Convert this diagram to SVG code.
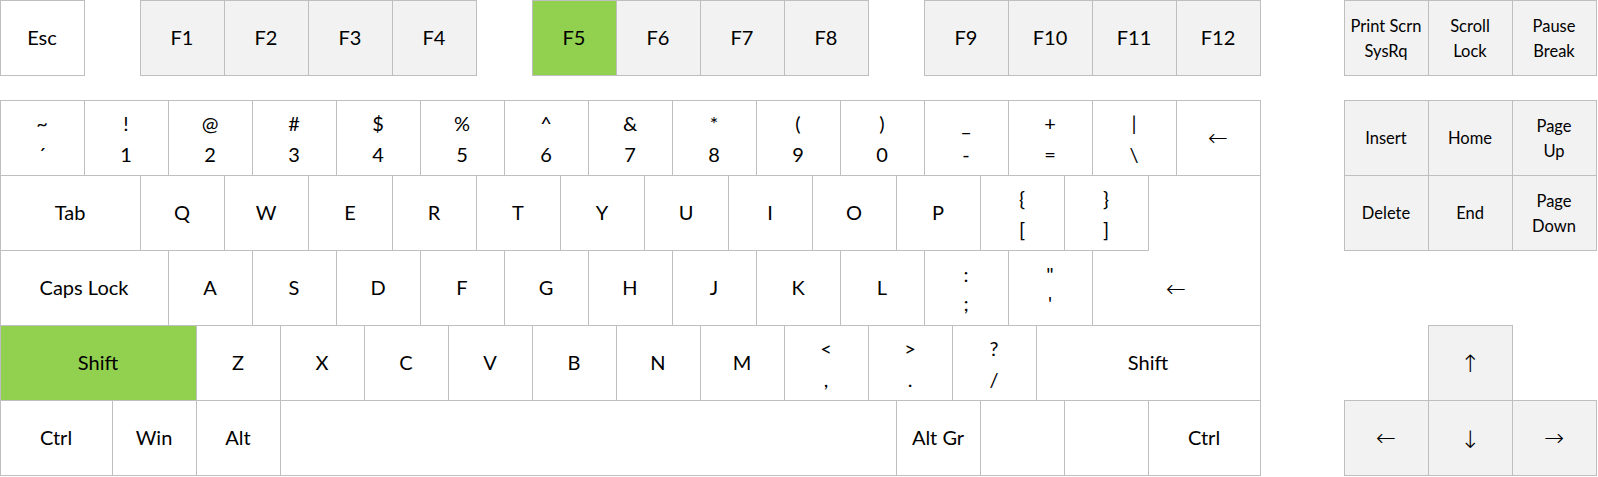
<svg xmlns="http://www.w3.org/2000/svg" width="1598" height="477" viewBox="0 0 1598 477">
<style>
rect, path.k { stroke: #BFBFBF; stroke-width: 1; fill: #FFFFFF; }
.g rect { fill: #F2F2F2; }
.hl rect { fill: #92D050; }
text { font-family: Lato, "Liberation Sans", sans-serif; font-size: 20px; fill: #000000; text-anchor: middle; }
.s text { font-size: 16.5px; }
text.ar { font-family: "DejaVu Sans", sans-serif; font-size: 24px; font-weight: 300; }
</style>
<rect x="0" y="0" width="1598" height="477" style="fill:#FFFFFF;stroke:none"/>
<!-- Function row -->
<g id="key-esc"><rect x="0.5" y="0.5" width="84" height="75"/><text x="42" y="45">Esc</text></g>
<g id="key-f1" class="g"><rect x="140.5" y="0.5" width="84" height="75"/><text x="182" y="45">F1</text></g>
<g id="key-f2" class="g"><rect x="224.5" y="0.5" width="84" height="75"/><text x="266" y="45">F2</text></g>
<g id="key-f3" class="g"><rect x="308.5" y="0.5" width="84" height="75"/><text x="350" y="45">F3</text></g>
<g id="key-f4" class="g"><rect x="392.5" y="0.5" width="84" height="75"/><text x="434" y="45">F4</text></g>
<g id="key-f5" class="hl"><rect x="532.5" y="0.5" width="84" height="75"/><text x="574" y="45">F5</text></g>
<g id="key-f6" class="g"><rect x="616.5" y="0.5" width="84" height="75"/><text x="658" y="45">F6</text></g>
<g id="key-f7" class="g"><rect x="700.5" y="0.5" width="84" height="75"/><text x="742" y="45">F7</text></g>
<g id="key-f8" class="g"><rect x="784.5" y="0.5" width="84" height="75"/><text x="826" y="45">F8</text></g>
<g id="key-f9" class="g"><rect x="924.5" y="0.5" width="84" height="75"/><text x="966" y="45">F9</text></g>
<g id="key-f10" class="g"><rect x="1008.5" y="0.5" width="84" height="75"/><text x="1050" y="45">F10</text></g>
<g id="key-f11" class="g"><rect x="1092.5" y="0.5" width="84" height="75"/><text x="1134" y="45">F11</text></g>
<g id="key-f12" class="g"><rect x="1176.5" y="0.5" width="84" height="75"/><text x="1218" y="45">F12</text></g>
<g id="key-prtsc" class="g s"><rect x="1344.5" y="0.5" width="84" height="75"/><text x="1386" y="32">Print Scrn</text><text x="1386" y="56.5">SysRq</text></g>
<g id="key-scrlk" class="g s"><rect x="1428.5" y="0.5" width="84" height="75"/><text x="1470" y="32">Scroll</text><text x="1470" y="56.5">Lock</text></g>
<g id="key-pause" class="g s"><rect x="1512.5" y="0.5" width="84" height="75"/><text x="1554" y="32">Pause</text><text x="1554" y="56.5">Break</text></g>
<!-- Number row -->
<g id="key-tilde"><rect x="0.5" y="100.5" width="84" height="75"/><text x="42" y="131">~</text><text x="42" y="161.5">´</text></g>
<g id="key-1"><rect x="84.5" y="100.5" width="84" height="75"/><text x="126" y="131">!</text><text x="126" y="161.5">1</text></g>
<g id="key-2"><rect x="168.5" y="100.5" width="84" height="75"/><text x="210" y="131">@</text><text x="210" y="161.5">2</text></g>
<g id="key-3"><rect x="252.5" y="100.5" width="84" height="75"/><text x="294" y="131">#</text><text x="294" y="161.5">3</text></g>
<g id="key-4"><rect x="336.5" y="100.5" width="84" height="75"/><text x="378" y="131">$</text><text x="378" y="161.5">4</text></g>
<g id="key-5"><rect x="420.5" y="100.5" width="84" height="75"/><text x="462" y="131">%</text><text x="462" y="161.5">5</text></g>
<g id="key-6"><rect x="504.5" y="100.5" width="84" height="75"/><text x="546" y="131">^</text><text x="546" y="161.5">6</text></g>
<g id="key-7"><rect x="588.5" y="100.5" width="84" height="75"/><text x="630" y="131">&amp;</text><text x="630" y="161.5">7</text></g>
<g id="key-8"><rect x="672.5" y="100.5" width="84" height="75"/><text x="714" y="131">*</text><text x="714" y="161.5">8</text></g>
<g id="key-9"><rect x="756.5" y="100.5" width="84" height="75"/><text x="798" y="131">(</text><text x="798" y="161.5">9</text></g>
<g id="key-0"><rect x="840.5" y="100.5" width="84" height="75"/><text x="882" y="131">)</text><text x="882" y="161.5">0</text></g>
<g id="key-minus"><rect x="924.5" y="100.5" width="84" height="75"/><text x="966" y="131">_</text><text x="966" y="161.5">-</text></g>
<g id="key-equal"><rect x="1008.5" y="100.5" width="84" height="75"/><text x="1050" y="131">+</text><text x="1050" y="161.5">=</text></g>
<g id="key-backslash"><rect x="1092.5" y="100.5" width="84" height="75"/><text x="1134" y="131">|</text><text x="1134" y="161.5">\</text></g>
<g id="key-backspace"><rect x="1176.5" y="100.5" width="84" height="75"/><text class="ar" x="1218" y="146">←</text></g>
<g id="key-insert" class="g s"><rect x="1344.5" y="100.5" width="84" height="75"/><text x="1386" y="143.5">Insert</text></g>
<g id="key-home" class="g s"><rect x="1428.5" y="100.5" width="84" height="75"/><text x="1470" y="143.5">Home</text></g>
<g id="key-pgup" class="g s"><rect x="1512.5" y="100.5" width="84" height="75"/><text x="1554" y="132">Page</text><text x="1554" y="156.5">Up</text></g>
<!-- Tab row -->
<g id="key-tab"><rect x="0.5" y="175.5" width="140" height="75"/><text x="70" y="220">Tab</text></g>
<g id="key-q"><rect x="140.5" y="175.5" width="84" height="75"/><text x="182" y="220">Q</text></g>
<g id="key-w"><rect x="224.5" y="175.5" width="84" height="75"/><text x="266" y="220">W</text></g>
<g id="key-e"><rect x="308.5" y="175.5" width="84" height="75"/><text x="350" y="220">E</text></g>
<g id="key-r"><rect x="392.5" y="175.5" width="84" height="75"/><text x="434" y="220">R</text></g>
<g id="key-t"><rect x="476.5" y="175.5" width="84" height="75"/><text x="518" y="220">T</text></g>
<g id="key-y"><rect x="560.5" y="175.5" width="84" height="75"/><text x="602" y="220">Y</text></g>
<g id="key-u"><rect x="644.5" y="175.5" width="84" height="75"/><text x="686" y="220">U</text></g>
<g id="key-i"><rect x="728.5" y="175.5" width="84" height="75"/><text x="770" y="220">I</text></g>
<g id="key-o"><rect x="812.5" y="175.5" width="84" height="75"/><text x="854" y="220">O</text></g>
<g id="key-p"><rect x="896.5" y="175.5" width="84" height="75"/><text x="938" y="220">P</text></g>
<g id="key-lbracket"><rect x="980.5" y="175.5" width="84" height="75"/><text x="1022" y="206">{</text><text x="1022" y="236.5">[</text></g>
<g id="key-rbracket"><rect x="1064.5" y="175.5" width="84" height="75"/><text x="1106" y="206">}</text><text x="1106" y="236.5">]</text></g>
<g id="key-delete" class="g s"><rect x="1344.5" y="175.5" width="84" height="75"/><text x="1386" y="218.5">Delete</text></g>
<g id="key-end" class="g s"><rect x="1428.5" y="175.5" width="84" height="75"/><text x="1470" y="218.5">End</text></g>
<g id="key-pgdn" class="g s"><rect x="1512.5" y="175.5" width="84" height="75"/><text x="1554" y="207">Page</text><text x="1554" y="231.5">Down</text></g>
<!-- Caps row -->
<g id="key-caps"><rect x="0.5" y="250.5" width="168" height="75"/><text x="84" y="295">Caps Lock</text></g>
<g id="key-a"><rect x="168.5" y="250.5" width="84" height="75"/><text x="210" y="295">A</text></g>
<g id="key-s"><rect x="252.5" y="250.5" width="84" height="75"/><text x="294" y="295">S</text></g>
<g id="key-d"><rect x="336.5" y="250.5" width="84" height="75"/><text x="378" y="295">D</text></g>
<g id="key-f"><rect x="420.5" y="250.5" width="84" height="75"/><text x="462" y="295">F</text></g>
<g id="key-g"><rect x="504.5" y="250.5" width="84" height="75"/><text x="546" y="295">G</text></g>
<g id="key-h"><rect x="588.5" y="250.5" width="84" height="75"/><text x="630" y="295">H</text></g>
<g id="key-j"><rect x="672.5" y="250.5" width="84" height="75"/><text x="714" y="295">J</text></g>
<g id="key-k"><rect x="756.5" y="250.5" width="84" height="75"/><text x="798" y="295">K</text></g>
<g id="key-l"><rect x="840.5" y="250.5" width="84" height="75"/><text x="882" y="295">L</text></g>
<g id="key-semicolon"><rect x="924.5" y="250.5" width="84" height="75"/><text x="966" y="281.5">:</text><text x="966" y="311">;</text></g>
<g id="key-quote"><rect x="1008.5" y="250.5" width="84" height="75"/><text x="1050" y="281.5">"</text><text x="1050" y="311">'</text></g>
<g id="key-enter"><path class="k" d="M1148.5,175.5 H1260.5 V325.5 H1092.5 V250.5 H1148.5 Z"/><text class="ar" x="1176" y="297">←</text></g>
<!-- Shift row -->
<g id="key-lshift" class="hl"><rect x="0.5" y="325.5" width="196" height="75"/><text x="98" y="370">Shift</text></g>
<g id="key-z"><rect x="196.5" y="325.5" width="84" height="75"/><text x="238" y="370">Z</text></g>
<g id="key-x"><rect x="280.5" y="325.5" width="84" height="75"/><text x="322" y="370">X</text></g>
<g id="key-c"><rect x="364.5" y="325.5" width="84" height="75"/><text x="406" y="370">C</text></g>
<g id="key-v"><rect x="448.5" y="325.5" width="84" height="75"/><text x="490" y="370">V</text></g>
<g id="key-b"><rect x="532.5" y="325.5" width="84" height="75"/><text x="574" y="370">B</text></g>
<g id="key-n"><rect x="616.5" y="325.5" width="84" height="75"/><text x="658" y="370">N</text></g>
<g id="key-m"><rect x="700.5" y="325.5" width="84" height="75"/><text x="742" y="370">M</text></g>
<g id="key-comma"><rect x="784.5" y="325.5" width="84" height="75"/><text x="826" y="356">&lt;</text><text x="826" y="386.5">,</text></g>
<g id="key-period"><rect x="868.5" y="325.5" width="84" height="75"/><text x="910" y="356">&gt;</text><text x="910" y="386.5">.</text></g>
<g id="key-slash"><rect x="952.5" y="325.5" width="84" height="75"/><text x="994" y="356">?</text><text x="994" y="386.5">/</text></g>
<g id="key-rshift"><rect x="1036.5" y="325.5" width="224" height="75"/><text x="1148" y="370">Shift</text></g>
<g id="key-up" class="g"><rect x="1428.5" y="325.5" width="84" height="75"/><text class="ar" x="1470" y="372">↑</text></g>
<!-- Bottom row -->
<g id="key-lctrl"><rect x="0.5" y="400.5" width="112" height="75"/><text x="56" y="445">Ctrl</text></g>
<g id="key-win"><rect x="112.5" y="400.5" width="84" height="75"/><text x="154" y="445">Win</text></g>
<g id="key-alt"><rect x="196.5" y="400.5" width="84" height="75"/><text x="238" y="445">Alt</text></g>
<g id="key-space"><rect x="280.5" y="400.5" width="616" height="75"/></g>
<g id="key-altgr"><rect x="896.5" y="400.5" width="84" height="75"/><text x="938" y="445">Alt Gr</text></g>
<g id="key-blank1"><rect x="980.5" y="400.5" width="84" height="75"/></g>
<g id="key-blank2"><rect x="1064.5" y="400.5" width="84" height="75"/></g>
<g id="key-rctrl"><rect x="1148.5" y="400.5" width="112" height="75"/><text x="1204" y="445">Ctrl</text></g>
<g id="key-left" class="g"><rect x="1344.5" y="400.5" width="84" height="75"/><text class="ar" x="1386" y="446">←</text></g>
<g id="key-down" class="g"><rect x="1428.5" y="400.5" width="84" height="75"/><text class="ar" x="1470" y="448">↓</text></g>
<g id="key-right" class="g"><rect x="1512.5" y="400.5" width="84" height="75"/><text class="ar" x="1554" y="446">→</text></g>
<g id="connectors"></g>
</svg>
